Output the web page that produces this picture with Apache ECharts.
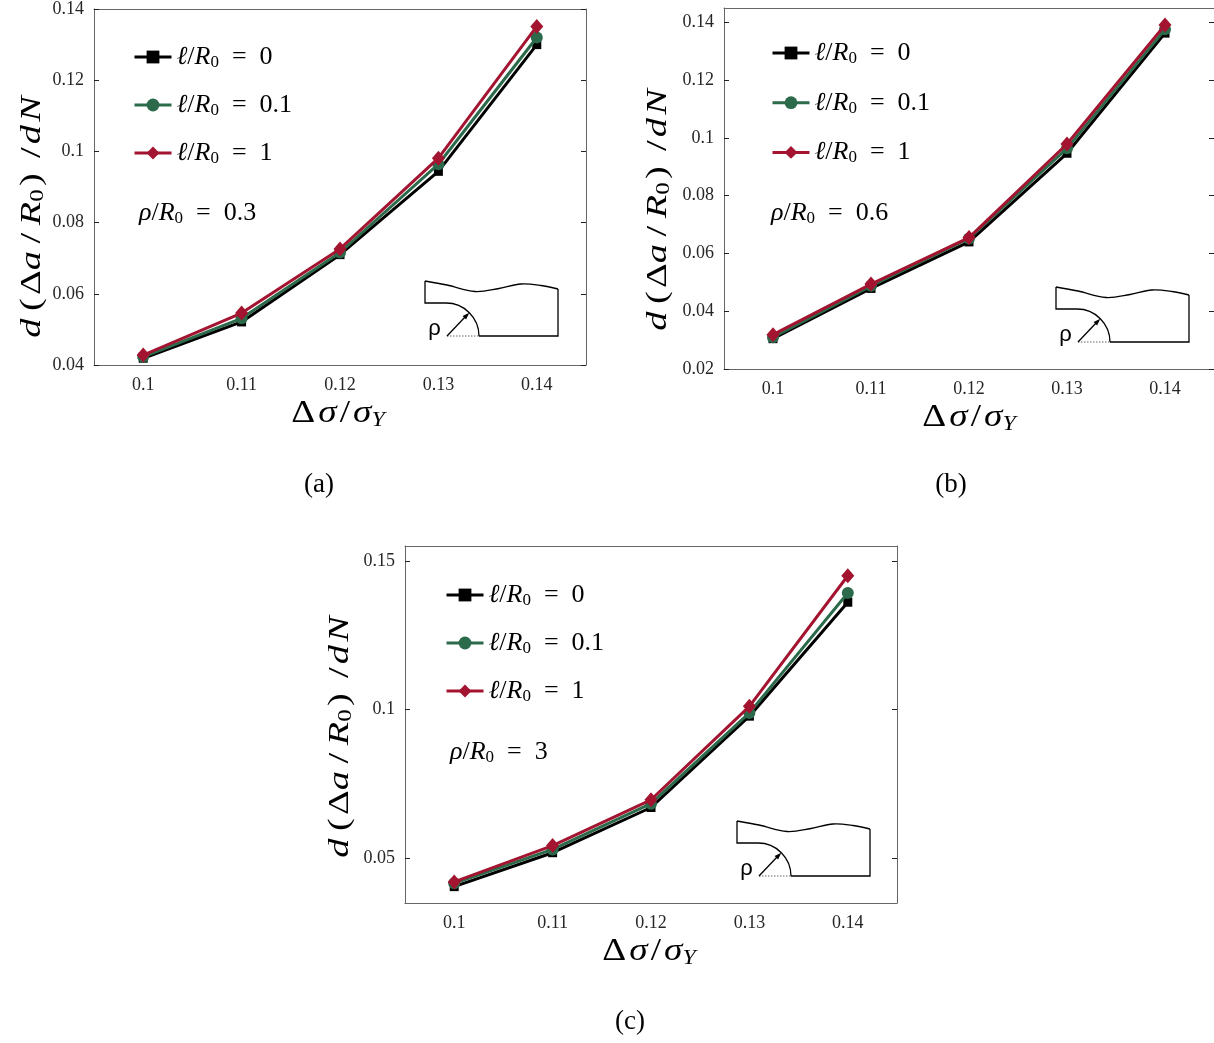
<!DOCTYPE html>
<html>
<head>
<meta charset="utf-8">
<script src="https://cdn.jsdelivr.net/npm/echarts@6.0.0/dist/echarts.min.js"></script>
<style>
html, body { margin: 0; padding: 0; background: #fff; }
#main { width: 1214px; height: 1043px; }
</style>
</head>
<body>
<div id="main"></div>
<script>
// x categories (Δσ/σY)
var xLabels = ['0.1', '0.11', '0.12', '0.13', '0.14'];
var seriesNames = ['ℓ/R0 = 0', 'ℓ/R0 = 0.1', 'ℓ/R0 = 1'];

// (a) ρ/R0 = 0.3
var aL0 = [0.0419, 0.0521, 0.0710, 0.0944, 0.1300];
var aL01 = [0.0423, 0.0531, 0.0716, 0.0964, 0.1320];
var aL1 = [0.0428, 0.0546, 0.0726, 0.0981, 0.1351];
var aTicks = [0.04, 0.06, 0.08, 0.1, 0.12, 0.14];

// (b) ρ/R0 = 0.6
var bL0 = [0.0305, 0.0479, 0.0640, 0.0947, 0.1363];
var bL01 = [0.0310, 0.0488, 0.0652, 0.0964, 0.1376];
var bL1 = [0.0319, 0.0494, 0.0655, 0.0979, 0.1391];
var bTicks = [0.02, 0.04, 0.06, 0.08, 0.1, 0.12, 0.14];

// (c) ρ/R0 = 3
var cL0 = [0.0405, 0.0519, 0.0671, 0.0978, 0.1361];
var cL01 = [0.0416, 0.0530, 0.0684, 0.0989, 0.1392];
var cL1 = [0.0421, 0.0543, 0.0697, 0.1011, 0.1450];
var cTicks = [0.05, 0.1, 0.15];

var colors = ['#000000', '#2b6a4b', '#a2142f'];
var symbols = ['rect', 'circle', 'diamond'];
var symbolSizes = [9, 12, [13, 15]];
var axisColor = '#666';
var serif = 'Liberation Serif';

function mathRich(size, sub) {
    return {
        i: {fontFamily: serif, fontStyle: 'italic', fontSize: size, lineHeight: size + 2, color: '#000', fill: '#000'},
        n: {fontFamily: serif, fontSize: size, lineHeight: size + 2, color: '#000', fill: '#000'},
        s: {fontFamily: serif, fontSize: sub, lineHeight: sub + 4, verticalAlign: 'bottom', color: '#000', fill: '#000'},
        si: {fontFamily: serif, fontStyle: 'italic', fontSize: sub, lineHeight: sub + 4, verticalAlign: 'bottom', color: '#000', fill: '#000'}
    };
}
var legendRich = mathRich(26, 17);

function ratioText(sym, v) {
    return '{i|' + sym + '}{n|/}{i|R}{s|0}{n|\u2002=\u2002' + v + '}';
}
function legendText(name) {
    return ratioText('ℓ', name.split('= ')[1]);
}

var yName = '{i|d}{n|\u2009(\u200aΔ}{i|a}{n|\u2009/\u2009}{i|R}{s|0}{n|\u200a)\u2009\u2009/\u200a}{i|d}{n|\u200a}{i|N}';
var xName = '{n|Δ\u200a}{i|σ}{n|\u200a/\u200a}{i|σ}{si|Y}';

var panels = [
    {grid: {left: 94, top: 8, width: 492, height: 357}, min: 0.04, max: 0.14, ticks: aTicks,
     data: [aL0, aL01, aL1], legend: [133, 44, 21], note: [139, 213, '0.3'], inset: [425, 281],
     caption: [319, 485, '(a)'], yTitle: [32, 217], xTitle: [338, 414]},
    {grid: {left: 724, top: 8, width: 494, height: 361}, min: 0.02, max: 0.145, ticks: bTicks,
     data: [bL0, bL01, bL1], legend: [771, 40, 22.7], note: [771, 213, '0.6'], inset: [1056, 287],
     caption: [951, 485, '(b)'], yTitle: [658, 210], xTitle: [969, 418]},
    {grid: {left: 405, top: 546, width: 492, height: 357}, min: 0.035, max: 0.155, ticks: cTicks,
     data: [cL0, cL01, cL1], legend: [445, 582, 21], note: [450, 752, '3'], inset: [737, 821],
     caption: [630, 1022, '(c)'], yTitle: [340, 737], xTitle: [649, 952]}
];

function tickFmt(v) {
    return String(+(+v).toFixed(3));
}

function inset(x0, y0) {
    var ls = {stroke: '#000', lineWidth: 1.3, fill: null};
    return {
        type: 'group', x: x0, y: y0, silent: true,
        children: [
            {type: 'polyline', shape: {points: [[0, 0], [22, 4], [50, 10.5], [74, 7.5], [96, 3], [116, 4.5], [133, 8]], smooth: 0.35}, style: ls},
            {type: 'polyline', shape: {points: [[0, 0], [0, 22], [21, 22]]}, style: ls},
            {type: 'arc', shape: {cx: 21, cy: 55, r: 33, startAngle: -Math.PI / 2, endAngle: 0, clockwise: true}, style: ls},
            {type: 'polyline', shape: {points: [[54, 55], [133, 55], [133, 8]]}, style: ls},
            {type: 'line', shape: {x1: 22, y1: 55, x2: 54, y2: 55}, style: {stroke: '#666', lineWidth: 1, lineDash: [1.5, 1.5]}},
            {type: 'line', shape: {x1: 22, y1: 55, x2: 41, y2: 35}, style: ls},
            {type: 'polygon', shape: {points: [[44.3, 31.7], [41.1, 38.4], [37.6, 34.9]]}, style: {fill: '#000'}},
            {type: 'text', style: {text: 'ρ', x: 9.5, y: 48, fontSize: 22, fontFamily: 'Liberation Sans', textAlign: 'center', textVerticalAlign: 'middle', fill: '#000'}}
        ]
    };
}

var option = {
    animation: false,
    backgroundColor: '#fff',
    grid: [], xAxis: [], yAxis: [], series: [], legend: [], graphic: []
};

panels.forEach(function (p, k) {
    option.grid.push(p.grid);
    option.xAxis.push({
        gridIndex: k, type: 'category', data: xLabels, boundaryGap: true, position: 'bottom',
        axisLine: {lineStyle: {color: axisColor, width: 1}},
        axisTick: {inside: true, alignWithLabel: true, length: 5, lineStyle: {color: '#222'}},
        axisLabel: {interval: 0, margin: 11, fontFamily: serif, fontSize: 18, color: '#262626'}
    });
    option.xAxis.push({
        gridIndex: k, type: 'category', data: xLabels, boundaryGap: true, position: 'top',
        axisLine: {lineStyle: {color: axisColor, width: 1}},
        axisTick: {inside: true, alignWithLabel: true, length: 5, lineStyle: {color: '#222'}},
        axisLabel: {show: false}
    });
    option.yAxis.push({
        gridIndex: k, type: 'value', min: p.min, max: p.max, position: 'left',
        splitLine: {show: false},
        axisLine: {show: true, lineStyle: {color: axisColor, width: 1}},
        axisTick: {show: true, inside: true, length: 5, customValues: p.ticks, lineStyle: {color: '#222'}},
        axisLabel: {customValues: p.ticks, formatter: tickFmt, margin: 10, fontFamily: serif, fontSize: 18, color: '#262626'}
    });
    option.yAxis.push({
        gridIndex: k, type: 'value', min: p.min, max: p.max, position: 'right',
        splitLine: {show: false},
        axisLine: {show: true, lineStyle: {color: axisColor, width: 1}},
        axisTick: {show: true, inside: true, length: 5, customValues: p.ticks, lineStyle: {color: '#222'}},
        axisLabel: {show: false}
    });
    p.data.forEach(function (d, s) {
        option.series.push({
            type: 'line', name: seriesNames[s],
            xAxisIndex: 2 * k, yAxisIndex: 2 * k,
            data: d,
            symbol: symbols[s], symbolSize: symbolSizes[s],
            showAllSymbol: true,
            color: colors[s],
            lineStyle: {color: colors[s], width: 3},
            itemStyle: {color: colors[s]},
            z: 2 + s
        });
    });
    option.legend.push({
        orient: 'vertical', left: p.legend[0], top: p.legend[1], padding: 0,
        itemWidth: 37, itemHeight: 16, itemGap: p.legend[2],
        selectedMode: false,
        data: seriesNames,
        formatter: legendText,
        lineStyle: {width: 3},
        textStyle: {rich: legendRich}
    });
    // ρ/R0 note
    option.graphic.push({
        type: 'text', silent: true,
        style: {
            text: ratioText('ρ', p.note[2]),
            x: p.note[0], y: p.note[1], textVerticalAlign: 'middle', rich: legendRich
        }
    });
    // axis titles
    option.graphic.push({
        type: 'text', silent: true, x: p.xTitle[0], y: p.xTitle[1], scaleX: 1.2,
        style: {text: xName, textAlign: 'center', textVerticalAlign: 'middle', rich: mathRich(31, 20)}
    });
    option.graphic.push({
        type: 'text', silent: true, x: p.yTitle[0], y: p.yTitle[1], rotation: Math.PI / 2, scaleX: 1.32,
        style: {text: yName, textAlign: 'center', textVerticalAlign: 'middle', rich: mathRich(29, 19)}
    });
    option.graphic.push(inset(p.inset[0], p.inset[1]));
    option.graphic.push({
        type: 'text', silent: true,
        style: {
            text: p.caption[2], x: p.caption[0], y: p.caption[1],
            textAlign: 'center', textVerticalAlign: 'middle',
            fontFamily: serif, fontSize: 27, fill: '#000'
        }
    });
});

var chart = echarts.init(document.getElementById('main'));
chart.setOption(option);
</script>
</body>
</html>
